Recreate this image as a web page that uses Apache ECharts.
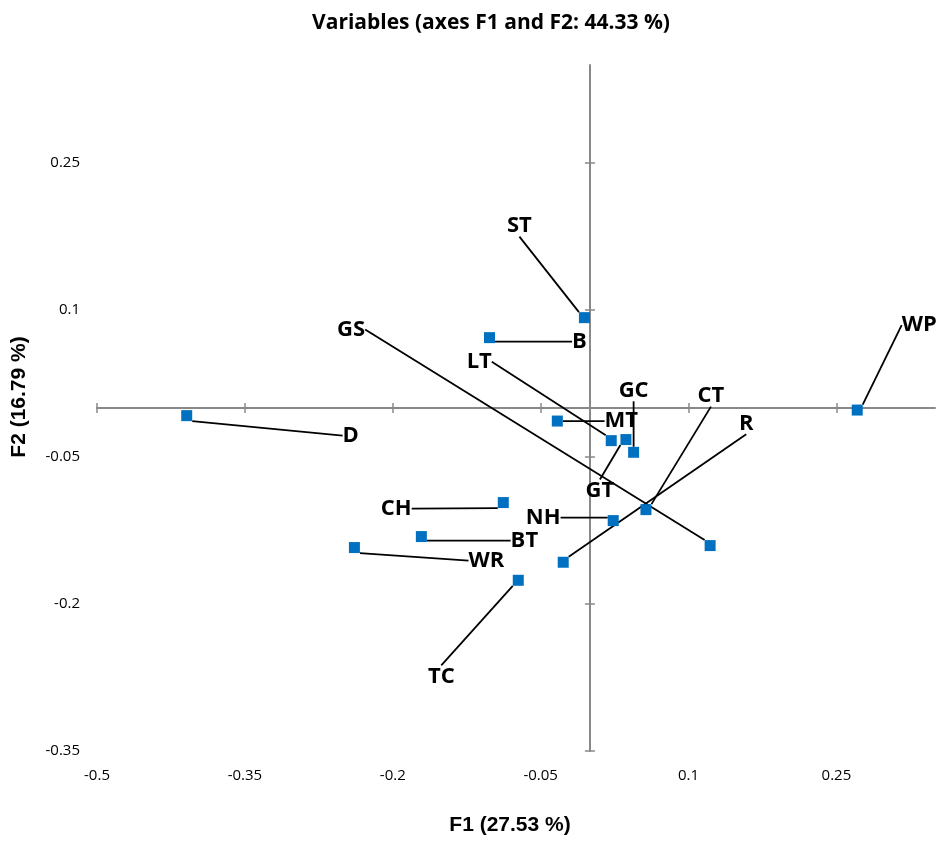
<!DOCTYPE html>
<html><head><meta charset="utf-8">
<script src="https://cdn.jsdelivr.net/npm/echarts@6/dist/echarts.min.js"></script>
<style>html,body{margin:0;padding:0;background:#fff}#c{width:942px;height:841px}</style>
</head><body><div id="c"></div>
<script>
// ---- data ----
const varNames = ['D','WP','ST','B','GS','LT','MT','GT','GC','CT','R','NH','CH','BT','WR','TC'];
const f1Values = [-0.409, 0.2711, -0.0056, -0.1019, 0.1219, 0.0216, -0.0331, 0.0365, 0.0443, 0.0568, -0.0271, 0.0236, -0.0879, -0.171, -0.2389, -0.0727];
const f2Values = [-0.0078, -0.0021, 0.0922, 0.0718, -0.1404, -0.0333, -0.0133, -0.0322, -0.0452, -0.1037, -0.1574, -0.1149, -0.0965, -0.1312, -0.1424, -0.1758];
const xTicks = [-0.5, -0.35, -0.2, -0.05, 0.1, 0.25];
const yTicks = [-0.35, -0.2, -0.05, 0.1, 0.25];
const titleText = 'Variables (axes F1 and F2: 44.33 %)';
const xName = 'F1 (27.53 %)';
const yName = 'F2 (16.79 %)';

// ---- label placement (pixel offsets from the point, layout only) ----
const labelOffsets = {
  D:[164,20], WP:[62,-85], ST:[-65,-92], B:[90,4], GS:[-359,-216], LT:[-132,-79],
  MT:[64,0], GT:[-26,51], GC:[0,-62], CT:[65,-114], R:[183,-139], NH:[-70,-3],
  CH:[-107,6], BT:[103,4], WR:[132,13], TC:[-77,96]
};

const FONT = "'Open Sans', sans-serif";
const NAMEFONT = "'Liberation Sans', Arial, sans-serif";
const axisGray = '#898989';
const X_MIN = -0.5, X_MAX = 0.35, Y_MIN = -0.35, Y_MAX = 0.35;

const chart = echarts.init(document.getElementById('c'), null, {renderer:'canvas'});

function xAxisBase(){ return {type:'value', min:X_MIN, max:X_MAX, splitLine:{show:false}, gridIndex:0}; }
function yAxisBase(){ return {type:'value', min:Y_MIN, max:Y_MAX, splitLine:{show:false}, gridIndex:0}; }

const points = varNames.map((n,i)=>({name:n, value:[f1Values[i], f2Values[i]]}));

chart.setOption({
  animation:false,
  backgroundColor:'#fff',
  title:{
    text:titleText, left:486, top:8, textAlign:'center',
    textStyle:{fontFamily:FONT, fontWeight:'bold', fontSize:21, color:'#000'}
  },
  grid:{left:97, right:7, top:65, bottom:90, containLabel:false},
  xAxis:[
    Object.assign(xAxisBase(), {
      position:'bottom',
      axisLine:{show:false, onZero:false},
      axisTick:{show:false},
      axisLabel:{customValues:xTicks, margin:17, fontSize:15, color:'#000', fontFamily:FONT},
      name:xName, nameLocation:'middle', nameGap:64,
      nameTextStyle:{fontFamily:NAMEFONT, fontWeight:'bold', fontSize:21, color:'#000', padding:[0,12,0,0]}
    }),
    Object.assign(xAxisBase(), {
      position:'bottom',
      axisLine:{show:true, onZero:true, onZeroAxisIndex:0, lineStyle:{color:axisGray, width:2}},
      axisTick:{show:true, inside:false, length:5, customValues:xTicks, lineStyle:{color:axisGray, width:1.5}},
      axisLabel:{show:false}
    }),
    Object.assign(xAxisBase(), {
      position:'bottom',
      axisLine:{show:false, onZero:true, onZeroAxisIndex:0},
      axisTick:{show:true, inside:true, length:5, customValues:xTicks, lineStyle:{color:axisGray, width:1.5}},
      axisLabel:{show:false}
    })
  ],
  yAxis:[
    Object.assign(yAxisBase(), {
      position:'left',
      axisLine:{show:false, onZero:false},
      axisTick:{show:false},
      axisLabel:{customValues:yTicks, margin:17, fontSize:15, color:'#000', fontFamily:FONT},
      name:yName, nameLocation:'middle', nameGap:67,
      nameTextStyle:{fontFamily:NAMEFONT, fontWeight:'bold', fontSize:21, color:'#000', padding:[0,0,0,22]}
    }),
    Object.assign(yAxisBase(), {
      position:'left',
      axisLine:{show:true, onZero:true, onZeroAxisIndex:0, lineStyle:{color:axisGray, width:2}},
      axisTick:{show:true, inside:false, length:5, customValues:yTicks, lineStyle:{color:axisGray, width:1.5}},
      axisLabel:{show:false}
    }),
    Object.assign(yAxisBase(), {
      position:'left',
      axisLine:{show:false, onZero:true, onZeroAxisIndex:0},
      axisTick:{show:true, inside:true, length:5, customValues:yTicks, lineStyle:{color:axisGray, width:1.5}},
      axisLabel:{show:false}
    })
  ],
  series:[{
    type:'scatter',
    xAxisIndex:0, yAxisIndex:0,
    symbol:'rect', symbolSize:11,
    itemStyle:{color:'#0070C0', opacity:1},
    data:points,
    label:{
      show:true, position:'inside', formatter:'{b}',
      fontFamily:FONT, fontWeight:'bold', fontSize:22, color:'#000',
      textBorderWidth:0
    },
    labelLine:{show:true, lineStyle:{color:'#000', width:1.8, opacity:1}},
    labelLayout:function(p){
      const o = labelOffsets[varNames[p.dataIndex]] || [0,0];
      return {dx:o[0], dy:o[1]};
    },
    z:5
  }]
});
</script>
</body></html>
